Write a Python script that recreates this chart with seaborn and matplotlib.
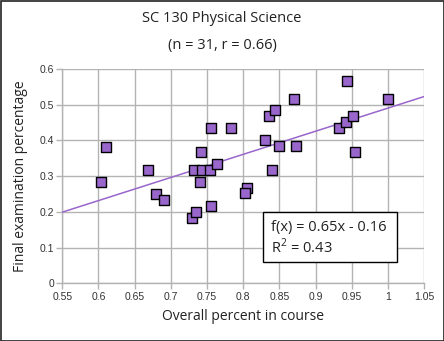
import numpy as np
import pandas as pd
import matplotlib
matplotlib.use("Agg")
import matplotlib.pyplot as plt
import seaborn as sns
from matplotlib.patches import Rectangle

overall = [0.603, 0.611, 0.668, 0.679, 0.690, 0.729, 0.734, 0.732, 0.7425, 0.740,
           0.742, 0.754, 0.755, 0.756, 0.763, 0.7826, 0.8047, 0.802, 0.8296, 0.835,
           0.8434, 0.839, 0.850, 0.8696, 0.873, 0.932, 0.942, 0.952, 0.943, 0.954, 0.9995]
final = [0.285, 0.383, 0.318, 0.251, 0.234, 0.184, 0.201, 0.318, 0.318, 0.285,
         0.367, 0.318, 0.434, 0.217, 0.335, 0.434, 0.268, 0.252, 0.4005, 0.468,
         0.4846, 0.318, 0.384, 0.517, 0.384, 0.434, 0.451, 0.468, 0.5675, 0.367, 0.517]
xticks = [0.55, 0.6, 0.65, 0.7, 0.75, 0.8, 0.85, 0.9, 0.95, 1.0, 1.05]
xticklabels = ["0.55", "0.6", "0.65", "0.7", "0.75", "0.8", "0.85", "0.9", "0.95", "1", "1.05"]
yticks = [0, 0.1, 0.2, 0.3, 0.4, 0.5, 0.6]
yticklabels = ["0", "0.1", "0.2", "0.3", "0.4", "0.5", "0.6"]
title = "SC 130 Physical Science"
subtitle = "(n = 31, r = 0.66)"
eq_line1 = "f(x) = 0.65x - 0.16"
eq_line2 = "R$^2$ = 0.43"

df = pd.DataFrame({"overall": overall, "final": final})

sns.set_style("white")
plt.rcParams['font.family'] = ['Open Sans', 'DejaVu Sans']
plt.rcParams['mathtext.fontset'] = 'custom'
plt.rcParams['mathtext.rm'] = 'Open Sans'

W, H = 444, 341
fig = plt.figure(figsize=(W/100, H/100), dpi=100)
ax = fig.add_axes([62.3/W, 1 - 283.3/H, (424.3-62.3)/W, (283.3-69)/H])
ax.set_xlim(0.55, 1.05)
ax.set_ylim(0, 0.6)

purple = "#9966cc"
sns.regplot(data=df, x="overall", y="final", ax=ax, ci=None, truncate=False,
            scatter=False, line_kws=dict(color=purple, lw=1.1, zorder=3))
sns.scatterplot(data=df, x="overall", y="final", ax=ax, marker="s", s=62,
                color=purple, edgecolor="black", linewidth=1.0, zorder=4)

ax.set_xlim(0.55, 1.05)
ax.set_ylim(0, 0.6)
ax.set_xticks(xticks)
ax.set_xticklabels(xticklabels)
ax.set_yticks(yticks)
ax.set_yticklabels(yticklabels)
ax.grid(True, color="#b3b3b3", lw=1.0)
ax.set_axisbelow(True)
for s in ["top", "right"]:
    ax.spines[s].set_visible(False)
for s in ["left", "bottom"]:
    ax.spines[s].set_color("#b3b3b3")
    ax.spines[s].set_linewidth(1.0)
ax.tick_params(axis="both", which="major", length=4, width=1, color="#b3b3b3",
               labelsize=7.5, labelcolor="#333333", pad=2, direction="out",
               bottom=True, left=True)
for lab in ax.get_xticklabels() + ax.get_yticklabels():
    lab.set_fontfamily(["Liberation Sans", "DejaVu Sans"])

ax.set_xlabel("Overall percent in course", fontsize=10, color="#222222", labelpad=5)
ax.set_ylabel("Final examination percentage", fontsize=10, color="#222222", labelpad=8)

fig.text(0.5, 1 - 19/H, title, ha="center", va="center", fontsize=10.5, color="#222222")
fig.text(0.5, 1 - 46/H, subtitle, ha="center", va="center", fontsize=10.5, color="#222222")

# equation box
fig.patches.append(Rectangle((263.3/W, 1 - 262.3/H), (396.7-263.3)/W, (262.3-212.3)/H,
                             transform=fig.transFigure, facecolor="white",
                             edgecolor="black", lw=1, zorder=5))
fig.text(271/W, 1 - 227.5/H, eq_line1, fontsize=10.5, color="#222222", va="center", ha="left", zorder=6)
fig.text(271/W, 1 - 247.5/H, eq_line2, fontsize=10.5, color="#222222", va="center", ha="left", zorder=6)

fig.patches.append(Rectangle((0.5/W, 0.5/H), 1 - 1/W, 1 - 1/H, transform=fig.transFigure,
                             fill=False, edgecolor="#222222", lw=1.2))

fig.savefig("out.png", dpi=100)
